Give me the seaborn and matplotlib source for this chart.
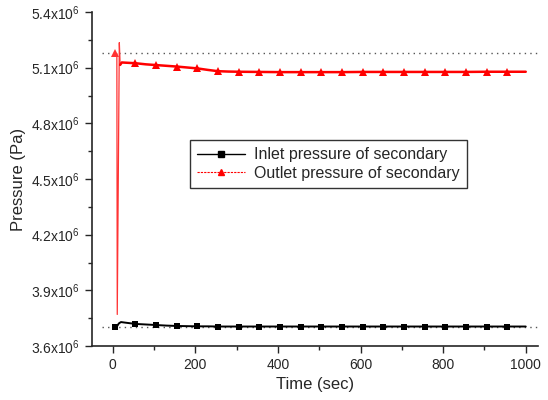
import numpy as np
import pandas as pd
import matplotlib
matplotlib.use("Agg")
import matplotlib.pyplot as plt
from matplotlib.ticker import FuncFormatter, MultipleLocator
from matplotlib.lines import Line2D
import seaborn as sns

# Inlet pressure of secondary (Pa)
t_in = [5, 10, 15, 20, 30, 55, 80, 105, 130, 155, 180, 205, 230, 255, 305, 355, 405, 455,
        505, 555, 605, 655, 705, 755, 805, 855, 905, 955, 1000]
p_in = [3.703, 3.705, 3.722, 3.729, 3.726, 3.719, 3.716, 3.713, 3.710, 3.708, 3.707, 3.706,
        3.706, 3.705, 3.705, 3.705, 3.705, 3.705, 3.705, 3.705, 3.705, 3.705, 3.705, 3.705,
        3.705, 3.705, 3.705, 3.705, 3.705]

# Outlet pressure of secondary (Pa)
t_out = [5, 10, 11, 16, 18, 22, 30, 55, 80, 105, 130, 155, 180, 205, 230, 255, 280, 305,
         355, 405, 455, 505, 555, 605, 655, 705, 755, 805, 855, 905, 955, 1000]
p_out = [5.178, 5.175, 3.77, 5.235, 5.115, 5.128, 5.127, 5.124, 5.118, 5.114, 5.110, 5.106,
         5.101, 5.096, 5.088, 5.081, 5.079, 5.078, 5.077, 5.076, 5.076, 5.076, 5.076, 5.077,
         5.077, 5.077, 5.077, 5.077, 5.077, 5.078, 5.078, 5.078]

ref_levels = [5.18, 3.70]

scale = 1e6
df_in = pd.DataFrame({"t": t_in, "p": np.array(p_in) * scale})
df_out = pd.DataFrame({"t": t_out, "p": np.array(p_out) * scale})
mk_in = [i for i, t in enumerate(t_in) if t % 50 == 5]

# transient spike drawn thin, settled part drawn thick
spike = df_out.iloc[:5]
settled = df_out.iloc[4:].reset_index(drop=True)
mk_out = [i for i, t in enumerate(settled["t"]) if t % 50 == 5]

sns.set_style("ticks")
plt.rcParams["font.family"] = ["Liberation Sans", "DejaVu Sans"]
plt.rcParams["mathtext.fontset"] = "custom"
plt.rcParams["mathtext.rm"] = "Liberation Sans"

fig = plt.figure(figsize=(5.48, 4.0), dpi=100)
ax = fig.add_axes([0.168, 0.135, 0.814, 0.835])

for lvl in ref_levels:
    ax.hlines(lvl * scale, -27, 1030, colors="#555555", linestyles=(0, (1, 3)), linewidth=1)

sns.lineplot(data=df_in, x="t", y="p", ax=ax, color="black", linewidth=1.4,
             marker="s", markersize=4.5, markevery=mk_in, markeredgewidth=0)
sns.lineplot(data=spike, x="t", y="p", ax=ax, color="#ff3333", linewidth=0.9,
             marker="^", markersize=6, markevery=[0], markeredgewidth=0, sort=False)
sns.lineplot(data=settled, x="t", y="p", ax=ax, color="red", linewidth=1.8,
             marker="^", markersize=6, markevery=mk_out, markeredgewidth=0)

ax.set_xlim(-50, 1030)
ax.set_ylim(3.6e6, 5.4e6)
ax.xaxis.set_major_locator(MultipleLocator(200))
ax.xaxis.set_minor_locator(MultipleLocator(100))
ax.yaxis.set_major_locator(MultipleLocator(0.3e6))
ax.yaxis.set_minor_locator(MultipleLocator(0.15e6))
ax.yaxis.set_major_formatter(FuncFormatter(lambda v, _: f"{v / 1e6:.1f}x10$^6$"))
ax.tick_params(which="both", direction="out", width=1, labelsize=10)
ax.tick_params(which="major", length=5)
ax.tick_params(which="minor", length=3)
sns.despine(ax=ax)
for s in ["left", "bottom"]:
    ax.spines[s].set_linewidth(1.2)

ax.set_xlabel("Time (sec)", fontsize=12)
ax.set_ylabel("Pressure (Pa)", fontsize=12)

handles = [
    Line2D([], [], color="black", linewidth=1, marker="s", markersize=4),
    Line2D([], [], color="red", linewidth=0.8, linestyle=(0, (2, 1)), marker="^", markersize=4.5),
]
leg = ax.legend(handles, ["Inlet pressure of secondary", "Outlet pressure of secondary"],
                loc="center", bbox_to_anchor=(0.53, 0.545), fontsize=11.5, frameon=True,
                fancybox=False, edgecolor="black", handlelength=3, borderpad=0.45,
                labelspacing=0.2, handletextpad=0.6)
leg.get_frame().set_linewidth(1)

fig.savefig("out.png", dpi=100)
